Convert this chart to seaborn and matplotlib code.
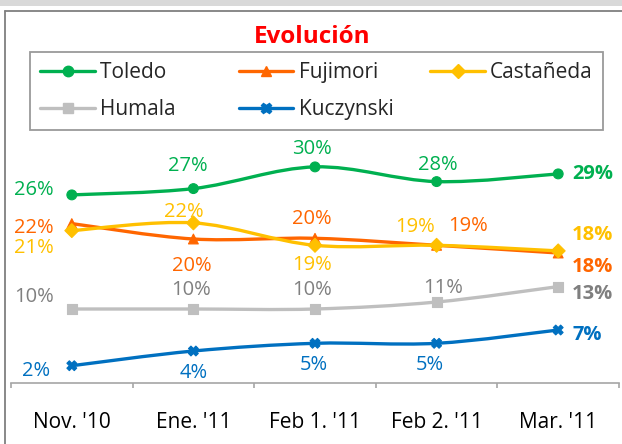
import numpy as np
import pandas as pd
import matplotlib
matplotlib.use('Agg')
import matplotlib.pyplot as plt
import seaborn as sns
from matplotlib.path import Path
from matplotlib.patches import PathPatch, Rectangle
from matplotlib.lines import Line2D

# data (percent)
fechas = ["Nov. '10", "Ene. '11", "Feb 1. '11", "Feb 2. '11", "Mar. '11"]
candidatos = ['Toledo', 'Fujimori', 'Castañeda', 'Humala', 'Kuczynski']
toledo = [26.3, 27.2, 30.3, 28.2, 29.3]
fujimori = [22.2, 20.0, 20.1, 19.1, 18.0]
castaneda = [21.2, 22.3, 19.1, 19.1, 18.3]
humala = [10.0, 10.0, 10.0, 11.0, 13.2]
kuczynski = [1.9, 4.0, 5.1, 5.1, 7.0]
series = [toledo, fujimori, castaneda, humala, kuczynski]

# styles
line_col = {'Toledo': '#00B050', 'Fujimori': '#FF6600', 'Castañeda': '#FFC000',
            'Humala': '#BFBFBF', 'Kuczynski': '#0070C0'}
text_col = {'Toledo': '#00B050', 'Fujimori': '#FF6600', 'Castañeda': '#FFC000',
            'Humala': '#808080', 'Kuczynski': '#0070C0'}
markers = {'Toledo': 'o', 'Fujimori': '^', 'Castañeda': 'D', 'Humala': 's', 'Kuczynski': 'X'}
# label offsets in pixels (dx, dy) of the visible text centre from the point
offsets = {
    'Toledo':    [(-18, 6.7), (-6, 25), (-3, 20), (1, 19), (14, 2)],
    'Fujimori':  [(-18, -2.7), (-2, -24.6), (-3, 21.6), (31, 21), (14, -12)],
    'Castañeda': [(-18, -15.3), (-10, 12.7), (-3, -17.7), (-22, 20), (14, 18)],
    'Humala':    [(-18, 14), (-2, 20.7), (-3, 20.7), (7, 16.3), (14, -5)],
    'Kuczynski': [(-21.7, -3.6), (0, -19.4), (-1, -20), (-7, -20), (14, -3)],
}

df = pd.DataFrame({
    'pos': np.tile(np.arange(len(fechas)), len(candidatos)),
    'valor': np.concatenate(series),
    'candidato': np.repeat(candidatos, len(fechas)),
})

sns.set_style('white')
plt.rcParams['font.family'] = ['Open Sans', 'DejaVu Sans']
FS = 14.5

W, H = 622, 444
fig = plt.figure(figsize=(W / 100, H / 100), dpi=100)

# grey strip at the top and the chart frame
fig.add_artist(Rectangle((0, 1 - 6 / H), 1, 6 / H, transform=fig.transFigure,
                         facecolor='#D9D9D9', edgecolor='none'))
fig.add_artist(Line2D([4.5 / W, 4.5 / W], [0, 1 - 11 / H], transform=fig.transFigure,
                      color='#7F7F7F', lw=1.3))
fig.add_artist(Line2D([4.5 / W, 1], [1 - 11 / H, 1 - 11 / H], transform=fig.transFigure,
                      color='#7F7F7F', lw=1.3))

ax = fig.add_axes([11 / W, (H - 383) / H, 608 / W, (383 - 130) / H])


def smooth_path(xs, ys):
    pts = np.column_stack([xs, ys]).astype(float)
    n = len(pts)
    verts = [pts[0]]
    codes = [Path.MOVETO]
    for i in range(n - 1):
        p0 = pts[max(i - 1, 0)]
        p1 = pts[i]
        p2 = pts[i + 1]
        p3 = pts[min(i + 2, n - 1)]
        verts += [p1 + (p2 - p0) / 6, p2 - (p3 - p1) / 6, p2]
        codes += [Path.CURVE4] * 3
    return Path(verts, codes)


for name, vals in zip(candidatos, series):
    ax.add_patch(PathPatch(smooth_path(np.arange(len(vals)), vals), facecolor='none',
                           edgecolor=line_col[name], lw=2.4, zorder=2, capstyle='round'))

sns.scatterplot(data=df, x='pos', y='valor', hue='candidato', style='candidato',
                palette=line_col, markers=markers, s=50, linewidth=0.8,
                edgecolor=None, legend=False, ax=ax, zorder=3)
for coll in ax.collections:
    coll.set_edgecolor(coll.get_facecolor())

ax.set_xlim(-0.5, 4.5)
ax.set_ylim(-0.57, 35.57)

cap_half = 0.714 * FS * 100 / 72 / 2
for name, vals in zip(candidatos, series):
    for j, v in enumerate(vals):
        dx, dy = offsets[name][j]
        last = j == len(vals) - 1
        ha = 'left' if last else ('right' if j == 0 else 'center')
        col = '#7F7F7F' if (last and name == 'Humala') else text_col[name]
        ax.annotate(f'{round(v):d}%', (j, v), xytext=(dx, dy - cap_half),
                    textcoords='offset pixels', ha=ha, va='baseline',
                    fontsize=FS, color=col, fontweight='bold' if last else 'normal',
                    zorder=4, annotation_clip=False)

for s in ['left', 'right', 'top']:
    ax.spines[s].set_visible(False)
ax.spines['bottom'].set_visible(True)
ax.spines['bottom'].set_color('#A6A6A6')
ax.spines['bottom'].set_linewidth(1.2)
ax.spines['bottom'].set_zorder(5)
ax.set_yticks([])
ax.set_xticks(range(len(fechas)))
ax.set_xticklabels(fechas, fontsize=15, color='#000000')
ax.set_xticks(np.arange(-0.5, len(fechas), 1), minor=True)
ax.tick_params(axis='x', which='both', bottom=True)
ax.tick_params(axis='x', which='major', length=0, pad=21)
ax.tick_params(axis='x', which='minor', length=3.5, width=1.2, color='#A6A6A6', direction='out')
ax.set_xlabel('')
ax.set_ylabel('')

fig.text(312 / W, 1 - 37 / H, 'Evolución', color='#FF0000', fontsize=17.5,
         fontweight='bold', ha='center', va='center')

handles = {n: Line2D([], [], color=line_col[n], lw=2.4, marker=markers[n], markersize=7.5)
           for n in candidatos}
order = ['Toledo', 'Humala', 'Fujimori', 'Kuczynski', 'Castañeda']
# trailing spaces keep the first column as wide as the second, like Excel's even columns
labels = ['Toledo' + ' ' * 6, 'Humala' + ' ' * 5, 'Fujimori', 'Kuczynski', 'Castañeda']
leg = fig.legend([handles[n] for n in order], labels, ncol=3, mode='expand',
                 loc='upper left', bbox_to_anchor=(30 / W, 1 - 127 / H, 573 / W, 75 / H),
                 bbox_transform=fig.transFigure, frameon=True, fancybox=False,
                 fontsize=15, handlelength=2.6, handletextpad=0.25,
                 borderpad=0.5, labelspacing=0.75, borderaxespad=0)
leg.get_frame().set_edgecolor('#808080')
leg.get_frame().set_linewidth(1.3)

fig.savefig('out.png', dpi=100)
